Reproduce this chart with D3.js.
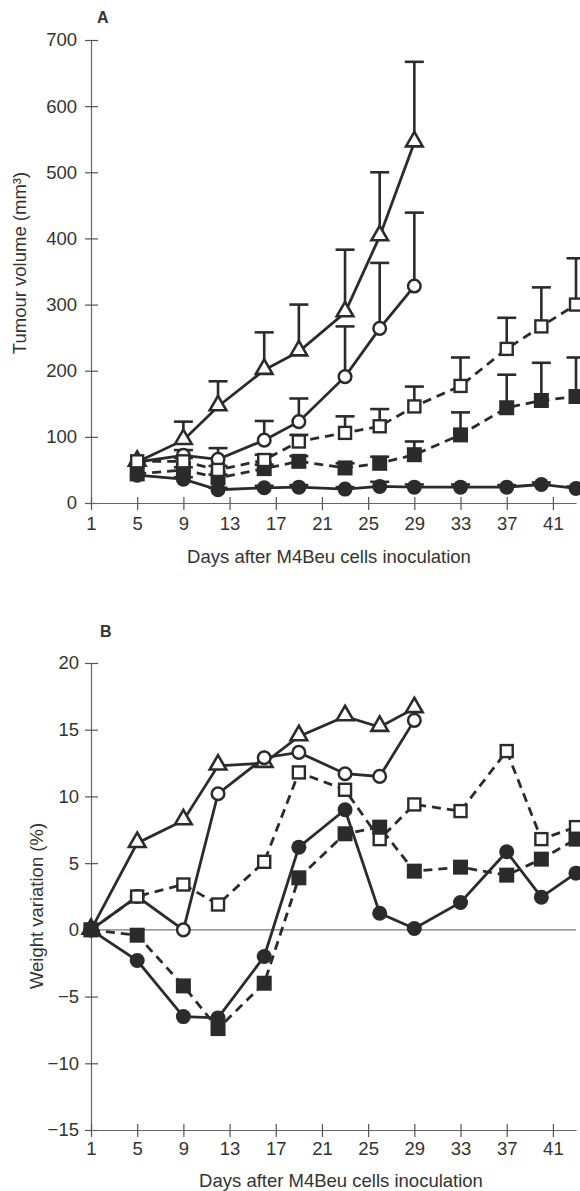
<!DOCTYPE html>
<html>
<head>
<meta charset="utf-8">
<script src="https://cdn.jsdelivr.net/npm/d3@7"></script>
<style>
  body { margin: 0; background: #fff; }
  svg { display: block; font-family: "Liberation Sans", Arial, sans-serif; }
</style>
</head>
<body>
<div id="chart"></div>
<script>
// values

var xTicks = [1, 5, 9, 13, 17, 21, 25, 29, 33, 37, 41];
var volTicks = [0, 100, 200, 300, 400, 500, 600, 700];
var wtTicks = [-15, -10, -5, 0, 5, 10, 15, 20];

// panel A: tumour volume
var volDaysShort = [5, 9, 12, 16, 19, 23, 26, 29];
var volDaysLong = [5, 9, 12, 16, 19, 23, 26, 29, 33, 37, 40, 43];

var volTriangle = [62, 95, 146, 201, 229, 288, 403, 545];
var volTriangleErr = [0, 28, 38, 57, 71, 95, 97, 122];
var volOpenCircle = [62, 72, 66, 95, 123, 191, 264, 328];
var volOpenCircleErr = [0, 8, 17, 29, 35, 76, 99, 111];
var volOpenSquare = [63, 63, 50, 65, 93, 106, 116, 146, 177, 233, 267, 300];
var volOpenSquareErr = [0, 5, 6, 8, 10, 25, 26, 30, 43, 47, 59, 70];
var volFilledSquare = [44, 50, 38, 52, 63, 53, 60, 73, 103, 144, 155, 161];
var volFilledSquareErr = [0, 4, 5, 6, 8, 7, 10, 20, 34, 50, 57, 59];
var volFilledCircle = [42, 36, 20, 23, 24, 21, 25, 24, 24, 24, 28, 22];
var volFilledCircleErr = [0, 3, 3, 3, 3, 3, 7, 4, 4, 3, 3, 3];

// panel B: weight variation
var wtDaysShort = [1, 5, 9, 12, 16, 19, 23, 26, 29];
var wtDaysLong = [1, 5, 9, 12, 16, 19, 23, 26, 29, 33, 37, 40, 43];

var wtTriangle = [0, 6.5, 8.2, 12.3, 12.5, 14.5, 16.0, 15.2, 16.6];
var wtOpenCircle = [0, 2.5, 0, 10.2, 12.9, 13.3, 11.7, 11.5, 15.7];
var wtOpenSquare = [0, 2.5, 3.4, 1.9, 5.1, 11.8, 10.5, 6.8, 9.4, 8.9, 13.4, 6.8, 7.7];
var wtFilledSquare = [0, -0.4, -4.2, -7.4, -4.0, 3.9, 7.2, 7.7, 4.4, 4.7, 4.1, 5.3, 6.8];
var wtFilledCircle = [0, -2.3, -6.5, -6.6, -2.0, 6.2, 9.0, 1.25, 0.1, 2.05, 5.85, 2.45, 4.25];

var ink = '#2b2b2b';

function series(days, values, err) {
  return days.map(function(d, i) {
    return {day: d, v: values[i], e: err ? err[i] : 0};
  });
}

// drawing order: later series sit on top
var volSeries = [
  {pts: series(volDaysShort, volTriangle, volTriangleErr), marker: 'triangle', dashed: false},
  {pts: series(volDaysShort, volOpenCircle, volOpenCircleErr), marker: 'ocircle', dashed: false},
  {pts: series(volDaysLong, volFilledCircle, volFilledCircleErr), marker: 'fcircle', dashed: false},
  {pts: series(volDaysLong, volFilledSquare, volFilledSquareErr), marker: 'fsquare', dashed: true},
  {pts: series(volDaysLong, volOpenSquare, volOpenSquareErr), marker: 'osquare', dashed: true}
];

var wtSeries = [
  {pts: series(wtDaysShort, wtTriangle), marker: 'triangle', dashed: false},
  {pts: series(wtDaysShort, wtOpenCircle), marker: 'ocircle', dashed: false},
  {pts: series(wtDaysLong, wtOpenSquare), marker: 'osquare', dashed: true},
  {pts: series(wtDaysLong, wtFilledCircle), marker: 'fcircle', dashed: false},
  {pts: series(wtDaysLong, wtFilledSquare), marker: 'fsquare', dashed: true}
];

var svg = d3.select('#chart').append('svg')
  .attr('width', 580).attr('height', 1191);

svg.append('rect').attr('width', 580).attr('height', 1191).attr('fill', '#fff');

var x = d3.scaleLinear().domain([1, 43]).range([91, 576]);

function drawMarker(g, p, type, xs, ys) {
  var cx = xs(p.day), cy = ys(p.v);
  if (type === 'fcircle') {
    g.append('circle').attr('cx', cx).attr('cy', cy).attr('r', 7.5).attr('fill', ink);
  } else if (type === 'ocircle') {
    g.append('circle').attr('cx', cx).attr('cy', cy).attr('r', 6.3)
      .attr('fill', '#fff').attr('stroke', ink).attr('stroke-width', 2.5);
  } else if (type === 'fsquare') {
    g.append('rect').attr('x', cx - 7.5).attr('y', cy - 7.5).attr('width', 15).attr('height', 15).attr('fill', ink);
  } else if (type === 'osquare') {
    g.append('rect').attr('x', cx - 6).attr('y', cy - 6).attr('width', 12).attr('height', 12)
      .attr('fill', '#fff').attr('stroke', ink).attr('stroke-width', 2.4);
  } else if (type === 'triangle') {
    g.append('path')
      .attr('d', d3.symbol().type(d3.symbolTriangle).size(120)())
      .attr('transform', 'translate(' + cx + ',' + (cy - 1) + ')')
      .attr('fill', '#fff').attr('stroke', ink).attr('stroke-width', 2.6)
      .attr('stroke-linejoin', 'miter');
  }
}

function drawPanel(opt) {
  var y = d3.scaleLinear().domain(opt.domain).range(opt.range);
  var g = svg.append('g');

  // y axis, ticks cross the axis line
  var ya = g.append('g').attr('transform', 'translate(91,0)')
    .call(d3.axisLeft(y).tickValues(opt.yTicks).tickSize(6).tickPadding(opt.yPad)
      .tickFormat(function(d) { return d < 0 ? '\u2212' + Math.abs(d) : d; }));
  ya.select('.domain').attr('stroke', '#666').attr('stroke-width', 1.2);
  ya.selectAll('.tick line').attr('x1', 7).attr('stroke', '#555').attr('stroke-width', 1.2);
  ya.selectAll('.tick text').attr('font-size', 18.5).attr('fill', '#333')
    .attr('font-family', '"Liberation Sans", Arial, sans-serif');

  // x axis at the bottom of the y range
  var xa = g.append('g').attr('transform', 'translate(0,' + opt.range[0] + ')')
    .call(d3.axisBottom(x).tickValues(xTicks).tickSize(7).tickPadding(opt.xPad).tickSizeOuter(0));
  xa.select('.domain').attr('stroke', '#666').attr('stroke-width', 1.2);
  xa.selectAll('.tick line').attr('y1', -6).attr('stroke', '#555').attr('stroke-width', 1.2);
  xa.selectAll('.tick text').attr('font-size', 18.5).attr('fill', '#333')
    .attr('font-family', '"Liberation Sans", Arial, sans-serif');

  if (opt.zeroLine) {
    g.append('line').attr('x1', 91).attr('x2', 576)
      .attr('y1', y(0)).attr('y2', y(0))
      .attr('stroke', '#777').attr('stroke-width', 1.2);
  }

  // error bars (upper only)
  opt.series.forEach(function(s) {
    s.pts.forEach(function(p) {
      if (!p.e) return;
      var cx = x(p.day);
      g.append('line').attr('x1', cx).attr('x2', cx)
        .attr('y1', y(p.v)).attr('y2', y(p.v + p.e))
        .attr('stroke', ink).attr('stroke-width', 2.6);
      g.append('line').attr('x1', cx - 9.5).attr('x2', cx + 9.5)
        .attr('y1', y(p.v + p.e)).attr('y2', y(p.v + p.e))
        .attr('stroke', ink).attr('stroke-width', 2.6);
    });
  });

  // lines
  var line = d3.line().x(function(p) { return x(p.day); }).y(function(p) { return y(p.v); });
  opt.series.forEach(function(s) {
    g.append('path').datum(s.pts).attr('d', line)
      .attr('fill', 'none').attr('stroke', ink).attr('stroke-width', 2.8)
      .attr('stroke-dasharray', s.dashed ? '9,6' : null);
  });

  // markers
  opt.series.forEach(function(s) {
    s.pts.forEach(function(p) { drawMarker(g, p, s.marker, x, y); });
  });

  // titles
  g.append('text').attr('x', opt.xTitleX).attr('y', opt.xTitleY)
    .attr('text-anchor', 'middle').attr('font-size', 18.5).attr('fill', '#333')
    .text('Days after M4Beu cells inoculation');
  g.append('text')
    .attr('transform', 'translate(' + opt.yTitleX + ',' + opt.yTitleY + ') rotate(-90)')
    .attr('text-anchor', 'middle').attr('font-size', 18.5).attr('fill', '#333')
    .text(opt.yTitle);
  g.append('text').attr('x', opt.labelX).attr('y', opt.labelY)
    .attr('font-size', 16).attr('font-weight', 'bold').attr('fill', '#333')
    .text(opt.label);
}

drawPanel({
  domain: [0, 700], range: [503, 40], yTicks: volTicks, yPad: 8, xPad: 7,
  series: volSeries, zeroLine: false,
  xTitleX: 329, xTitleY: 563,
  yTitle: 'Tumour volume (mm\u00b3)', yTitleX: 26, yTitleY: 263,
  label: 'A', labelX: 97, labelY: 23
});

drawPanel({
  domain: [-15, 20], range: [1130, 663], yTicks: wtTicks, yPad: 6, xPad: 5,
  series: wtSeries, zeroLine: true,
  xTitleX: 341, xTitleY: 1187,
  yTitle: 'Weight variation (%)', yTitleX: 43, yTitleY: 906,
  label: 'B', labelX: 100, labelY: 637
});
</script>
</body>
</html>
